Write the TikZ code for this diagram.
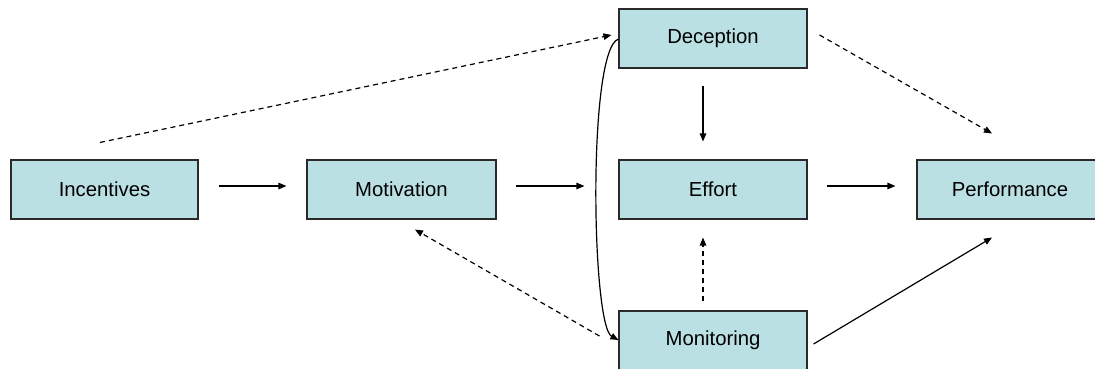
\documentclass[tikz,border=0pt]{standalone}
\usepackage{fontspec}
\setmainfont{Liberation Sans}
\usetikzlibrary{arrows.meta,calc}
\definecolor{boxfill}{HTML}{BBE0E3}
\definecolor{boxline}{HTML}{2A2A2A}
\tikzset{
  box/.style={draw=boxline, line width=1.1pt, fill=boxfill, minimum height=59pt,
    inner sep=0pt, font=\fontsize{20.3}{24}\selectfont},
  conn/.style={line width=1.2pt, -{Triangle[length=8pt,width=6.5pt]}},
  dconn/.style={conn, dash pattern=on 5pt off 4pt}
}
\begin{document}
\begin{tikzpicture}[x=1pt,y=-1pt]
\clip (0,0) rectangle (1095,368);
\fill[white] (0,0) rectangle (1095,368);
\node[box, minimum width=187pt] (incentives) at (104.5,189.5) {Incentives};
\node[box, minimum width=189pt] (motivation) at (401.5,189.5) {Motivation};
\node[box, minimum width=188pt] (deception) at (713,38.5) {Deception};
\node[box, minimum width=188pt] (effort) at (713,189.5) {Effort};
\node[box, minimum width=188pt] (monitoring) at (713,340.5) {Monitoring};
\node[box, minimum width=186pt] (performance) at (1010,189.5) {Performance};

\draw[conn] ($(incentives.east)+(20,-3.5)$) -- ($(motivation.west)+(-20,-3.5)$);
\draw[conn] ($(motivation.east)+(19,-3.5)$) -- ($(effort.west)+(-34,-3.5)$);
\draw[conn] ($(effort.east)+(19,-3.5)$) -- ($(performance.west)+(-21,-3.5)$);
\draw[conn] ($(deception.south)+(-10,17)$) -- ($(effort.north)+(-10,-18)$);
\draw[dconn] ($(monitoring.north)+(-10,-9)$) -- ($(effort.south)+(-10,18)$);
\draw[dconn] ($(incentives.north)+(-4.5,-17)$) -- ($(deception.west)+(-7,-3.5)$);
\draw[dconn] ($(deception.east)+(12,-3.5)$) -- ($(performance.north)+(-18,-26)$);
\draw[conn] ($(monitoring.east)+(6,3.5)$) -- ($(performance.south)+(-18,18)$);
\draw[dconn] ($(monitoring.west)+(-19,-4.5)$) -- ($(motivation.south)+(13.5,10)$);
\draw[conn] ($(deception.west)+(0,0.5)$) .. controls ($(deception.west)+(-31,11)$) and ($(monitoring.west)+(-27,-15)$) .. ($(monitoring.west)+(0,-0.5)$);
\end{tikzpicture}
\end{document}
